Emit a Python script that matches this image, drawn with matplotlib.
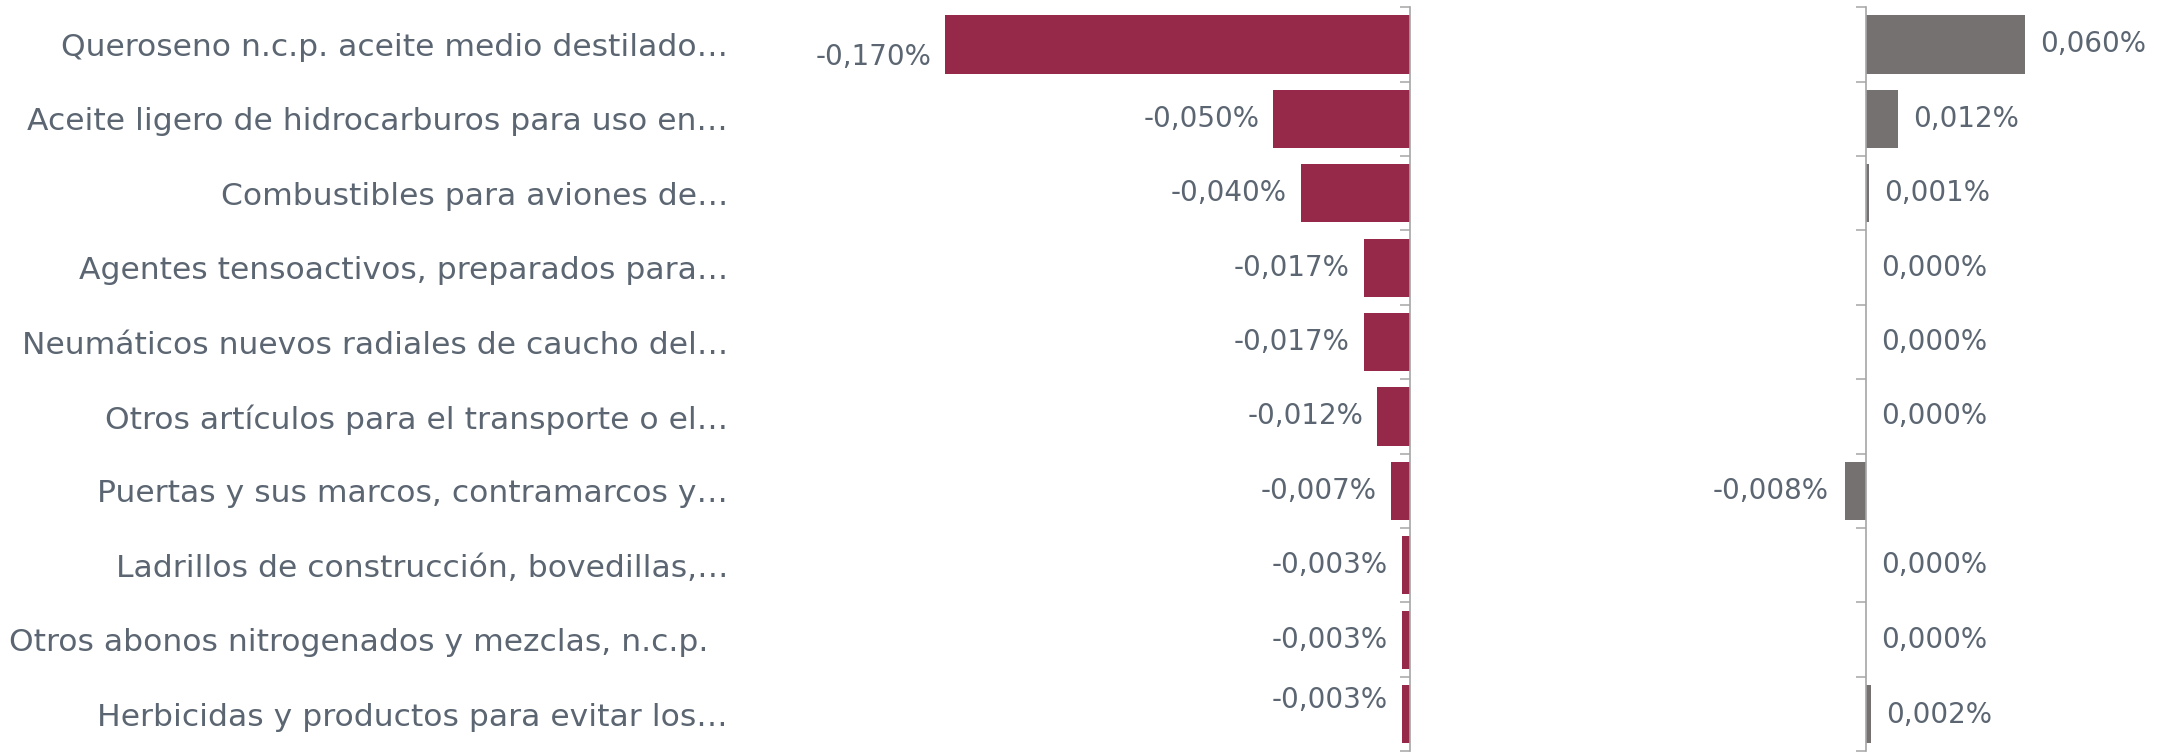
import matplotlib
matplotlib.use("Agg")
import matplotlib.pyplot as plt
import numpy as np

categories = [
    "Queroseno n.c.p. aceite medio destilado…",
    "Aceite ligero de hidrocarburos para uso en…",
    "Combustibles para aviones de…",
    "Agentes tensoactivos, preparados para…",
    "Neumáticos nuevos radiales de caucho del…",
    "Otros artículos para el transporte o el…",
    "Puertas y sus marcos, contramarcos y…",
    "Ladrillos de construcción, bovedillas,…",
    "Otros abonos nitrogenados y mezclas, n.c.p.  ",
    "Herbicidas y productos para evitar los…",
]
left_values = [-0.170, -0.050, -0.040, -0.017, -0.017, -0.012, -0.007, -0.003, -0.003, -0.003]
right_values = [0.060, 0.012, 0.001, 0.000, 0.000, 0.000, -0.008, 0.000, 0.000, 0.002]

W, H, DPI = 2159, 752, 100
TEXT = "#5b6672"
MAROON = "#96284a"
GRAY = "#757171"
AXIS = "#a6a6a6"
FONT = "DejaVu Sans"
FS_CAT = 22.6
FS_VAL = 20

plt.rcParams["font.family"] = [FONT]

fig = plt.figure(figsize=(W / DPI, H / DPI), dpi=DPI)

def px_axes(left, right, top, bottom):
    return fig.add_axes([left / W, 1 - bottom / H, (right - left) / W, (bottom - top) / H])

y = np.arange(len(categories))
ax_top, ax_bot = 7.3, 751.3

# Left panel
axL = px_axes(760, 1410, ax_top, ax_bot)
axL.barh(y, left_values, height=0.78, color=MAROON)
axL.set_xlim(-(1410 - 760) / 2735, 0)
axL.set_ylim(len(categories) - 0.5, -0.5)
for s in ["top", "bottom", "left"]:
    axL.spines[s].set_visible(False)
axL.spines["right"].set_color(AXIS)
axL.spines["right"].set_linewidth(1.2)
axL.set_xticks([])
axL.set_yticks(y)
axL.set_yticklabels(categories, fontsize=FS_CAT, color=TEXT)
axL.set_yticks(np.arange(-0.5, len(categories), 1), minor=True)
axL.tick_params(axis="y", which="major", left=False, right=False, labelleft=True, pad=19.5)
axL.tick_params(axis="y", which="minor", left=False, right=True, direction="in",
                length=7, width=1.1, color=AXIS)
left_dy = {0: -9, len(categories) - 1: 10}
for i, v in enumerate(left_values):
    axL.annotate(f"{v:.3f}".replace(".", ",") + "%", (v, i), xytext=(-10, left_dy.get(i, 0)),
                 textcoords="offset points", ha="right", va="center",
                 fontsize=FS_VAL, color=TEXT)

# Right panel
axR = px_axes(1700, 2159, ax_top, ax_bot)
axR.barh(y, right_values, height=0.78, color=GRAY)
scale_r = 2650
axR.set_xlim(-(1866 - 1700) / scale_r, (2159 - 1866) / scale_r)
axR.set_ylim(len(categories) - 0.5, -0.5)
for s in ["top", "bottom", "right"]:
    axR.spines[s].set_visible(False)
axR.spines["left"].set_position(("data", 0))
axR.spines["left"].set_color(AXIS)
axR.spines["left"].set_linewidth(1.2)
axR.set_xticks([])
axR.set_yticks([])
axR.set_yticks(np.arange(-0.5, len(categories), 1), minor=True)
axR.tick_params(axis="y", which="minor", left=True, direction="out",
                length=7, width=1.1, color=AXIS, labelleft=False)
for i, v in enumerate(right_values):
    lab = f"{v:.3f}".replace(".", ",") + "%"
    if v < 0:
        axR.annotate(lab, (v, i), xytext=(-12, 0), textcoords="offset points",
                     ha="right", va="center", fontsize=FS_VAL, color=TEXT)
    else:
        axR.annotate(lab, (v, i), xytext=(11, -1 if i == len(categories) - 1 else 0),
                     textcoords="offset points",
                     ha="left", va="center", fontsize=FS_VAL, color=TEXT)

fig.savefig("out.png", dpi=DPI)
